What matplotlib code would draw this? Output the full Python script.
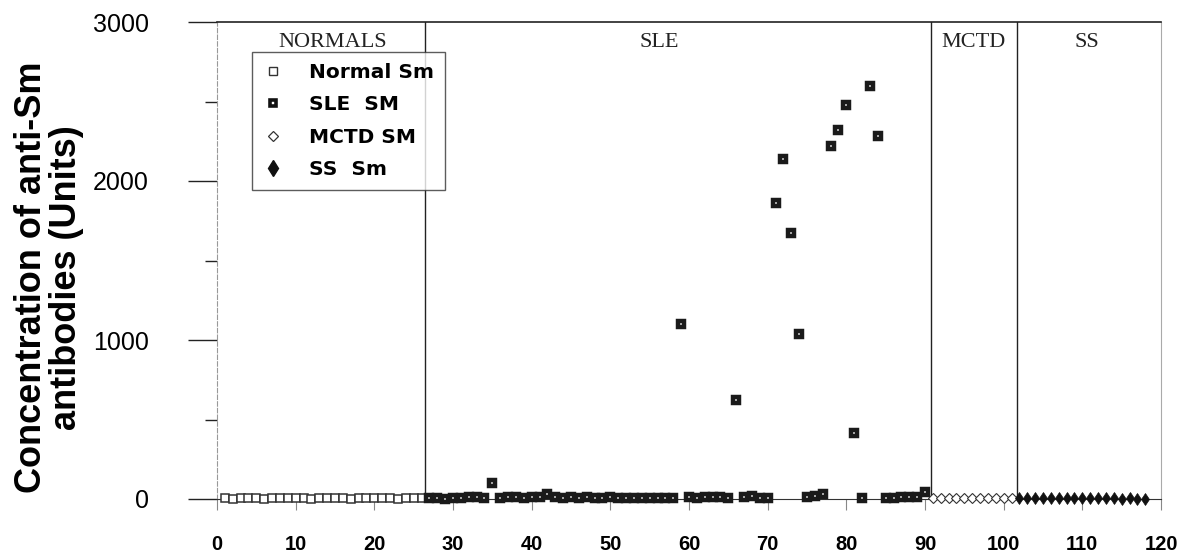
import matplotlib
matplotlib.use("Agg")
import matplotlib.pyplot as plt
from matplotlib.lines import Line2D

plt.rcParams["font.family"] = ["Liberation Sans", "DejaVu Sans"]

# patient index / anti-Sm concentration (units)
normal_x = list(range(1, 27))
normal_y = [5, 3, 6, 4, 5, 3, 6, 5, 4, 6, 5, 3, 5, 6, 4, 5, 3, 6, 5, 4, 6, 5, 3, 5, 6, 4]

sle_x = list(range(27, 91))
sle_y = [5, 8, 3, 6, 4, 10, 12, 8, 100, 5, 10, 12, 8, 15, 10, 30,
         10, 8, 12, 6, 10, 8, 5, 10, 5, 8, 6, 5, 8, 5, 6, 8,
         1100, 10, 8, 12, 15, 10, 8, 620, 10, 20, 8, 5,
         1860, 2140, 1670, 1040, 10, 20, 30, 2220, 2320, 2480, 415, 5,
         2600, 2280, 5, 8, 10, 15, 10, 45]

mctd_x = list(range(91, 102))
mctd_y = [5, 6, 4, 5, 6, 5, 4, 6, 5, 6, 5]

ss_x = list(range(102, 119))
ss_y = [8, 6, 5, 6, 5, 6, 5, 4, 6, 5, 4, 5, 4, 3, 4, 3, 3]

groups = ["NORMALS", "SLE", "MCTD", "SS"]
group_label_x = [14.7, 56.2, 96.2, 110.6]
group_edges = [26.5, 90.7, 101.7]

fig = plt.figure(figsize=(11.77, 5.58), dpi=100)
ax = fig.add_axes([217 / 1177, 59 / 558, 944 / 1177, 477 / 558])

ax.plot(normal_x, normal_y, ls="none", marker="s", ms=5.8, mfc="white",
        mec="#333333", mew=1.1, clip_on=False, zorder=3)
ax.plot(sle_x, sle_y, ls="none", marker="s", ms=5.0, mfc="white",
        mec="#1a1a1a", mew=3.2, clip_on=False, zorder=3)
ax.plot(mctd_x, mctd_y, ls="none", marker="D", ms=5.0, mfc="white",
        mec="#333333", mew=0.8, clip_on=False, zorder=3)
ax.plot(ss_x, ss_y, ls="none", marker="d", ms=6.5, mfc="#111111",
        mec="#111111", mew=0.5, clip_on=False, zorder=3)

# group separators and labels
for e in group_edges:
    ax.axvline(e, color="#222222", lw=1.0, zorder=1)
for g, gx in zip(groups, group_label_x):
    ax.text(gx, 2874, g, ha="center", va="center", fontsize=16,
            family="Liberation Serif", color="#222222")

ax.set_xlim(0, 120)
ax.set_ylim(0, 3000)

ax.spines["top"].set_color("#222222")
ax.spines["top"].set_linewidth(1.2)
ax.spines["bottom"].set_color("#333333")
ax.spines["left"].set_color("#999999")
ax.spines["left"].set_linestyle((0, (4, 2)))
ax.spines["left"].set_linewidth(0.8)
ax.spines["right"].set_color("#aaaaaa")
ax.spines["right"].set_linewidth(0.8)

ax.set_yticks([0, 1000, 2000, 3000])
ax.set_yticks([500, 1500, 2500], minor=True)
ax.tick_params(axis="y", which="major", length=21, width=1.0, color="#222222",
               pad=28, labelsize=18)
ax.tick_params(axis="y", which="minor", length=9, width=1.0, color="#222222")

ax.set_xticks(range(0, 121, 10))
ax.tick_params(axis="x", which="major", length=8, width=0.8, color="#888888",
               pad=18, labelsize=14.5)
for lab in ax.get_xticklabels():
    lab.set_fontweight("bold")

ax.set_ylabel("Concentration of anti-Sm\nantibodies (Units)", fontsize=26,
              fontweight="bold", linespacing=1.0)
ax.yaxis.set_label_coords(-0.141, 0.465)

handles = [
    Line2D([], [], ls="none", marker="s", ms=6, mfc="white", mec="#333333", mew=1.0),
    Line2D([], [], ls="none", marker="s", ms=4.5, mfc="white", mec="#111111", mew=2.6),
    Line2D([], [], ls="none", marker="D", ms=5.5, mfc="white", mec="#333333", mew=0.9),
    Line2D([], [], ls="none", marker="d", ms=8, mfc="#111111", mec="#111111"),
]
labels = ["Normal Sm", "SLE  SM", "MCTD SM", "SS  Sm"]
leg = ax.legend(handles, labels, loc="upper left", bbox_to_anchor=(0.037, 0.937),
                frameon=True, fancybox=False, edgecolor="#333333",
                prop={"weight": "bold", "size": 14.5, "family": "DejaVu Sans"},
                handlelength=1.0, handletextpad=1.3, labelspacing=0.66,
                borderpad=0.55, borderaxespad=0)
leg.get_frame().set_linewidth(1.0)

fig.savefig("out.png", dpi=100)
